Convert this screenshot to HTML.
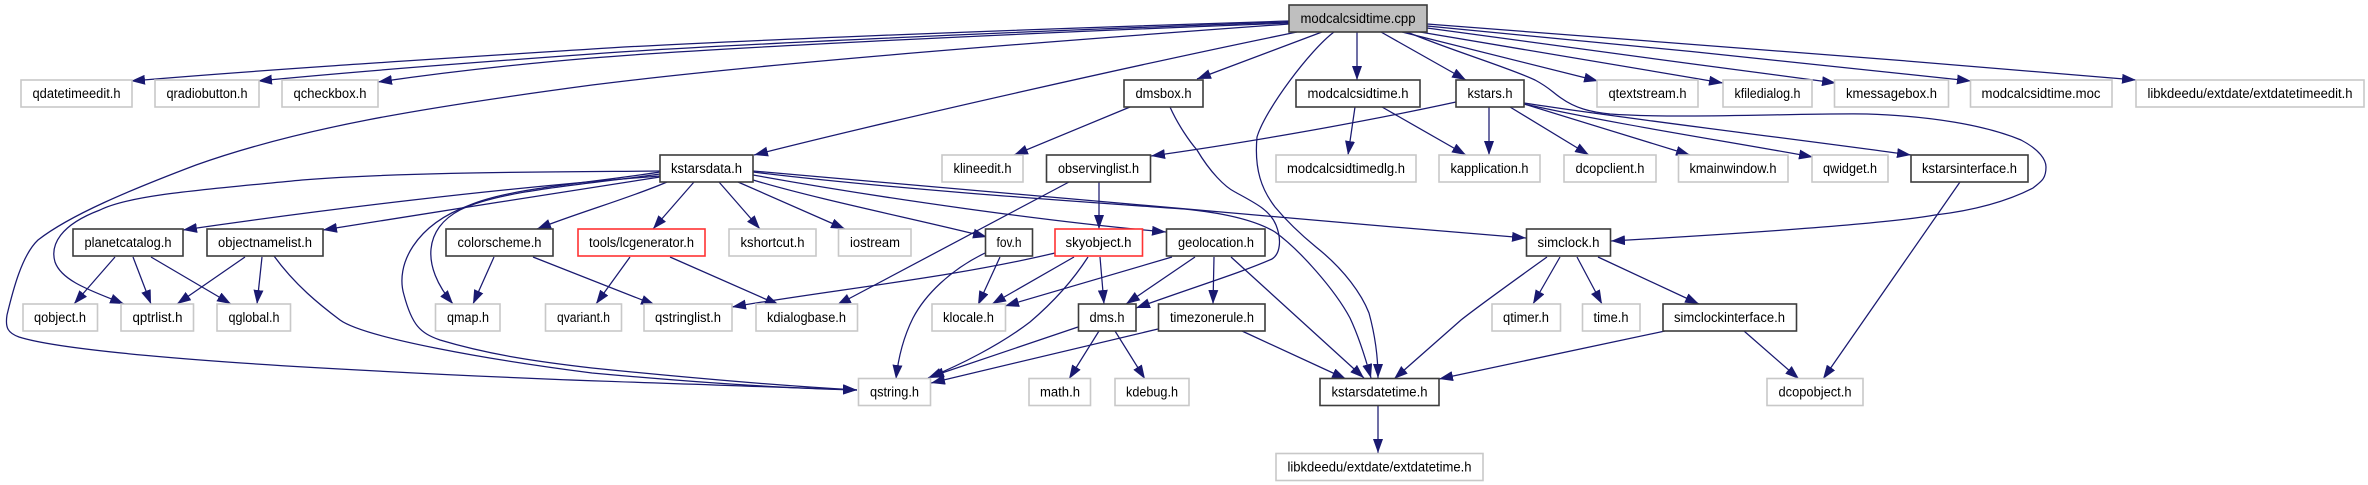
<!DOCTYPE html>
<html><head><meta charset="utf-8"><title>modcalcsidtime.cpp include graph</title>
<style>
html,body{margin:0;padding:0;background:#fff;width:2368px;height:485px;overflow:hidden}
svg{display:block}
.e path{fill:none;stroke:#191970;stroke-width:1.25;marker-end:url(#a)}
rect{stroke-width:1.6;fill:#fff}
.k{stroke:#3c3c3c}.g{stroke:#c8c8c8}.r{stroke:#ff3333}
text{font-family:"Liberation Sans",sans-serif;font-size:13.5px;fill:#000;text-anchor:middle}
</style></head><body>
<svg xmlns="http://www.w3.org/2000/svg" width="2368" height="485" viewBox="0 0 2368 485">
<defs><marker id="a" markerUnits="userSpaceOnUse" markerWidth="14" markerHeight="10" refX="14" refY="5" orient="auto"><path d="M0,0L14,5L0,10z" fill="#191970"/></marker></defs>
<g class="e">
<path d="M1289,21C1000,30 700,42 592,49C420,60 260,70 131,81"/>
<path d="M1289,22C1000,32 700,46 592,54C480,62 360,71 258,81"/>
<path d="M1289,23C1000,34 700,49 592,58C520,64 440,73 378,82"/>
<path d="M1289,24C1000,45 750,65 592,85C420,108 300,128 196,165C130,190 70,215 38,240C22,255 13,290 7,315C5,328 8,333 19,337C60,350 200,362 377,371C560,381 700,384 857,390"/>
<path d="M1297,32C1150,62 900,118 754,155"/>
<path d="M1322,32L1197,79"/>
<path d="M1357,32L1357,80"/>
<path d="M1381,32L1466,80"/>
<path d="M1402,32L1598,81"/>
<path d="M1414,31L1723,83"/>
<path d="M1427,28C1550,45 1700,65 1836,83"/>
<path d="M1427,26C1600,42 1800,62 1971,81"/>
<path d="M1427,24C1650,40 1900,60 2136,80"/>
<path d="M1407,32C1450,50 1510,68 1535,80C1550,88 1552,92 1561,98C1575,108 1590,112 1610,114C1680,119 1800,113 1867,114C1930,116 1985,125 2021,140C2040,150 2046,160 2046,167C2046,180 2040,182 2033,188C2000,205 1960,212 1935,215C1880,225 1700,236 1611,241"/>
<path d="M1334,32C1310,50 1265,110 1257,137C1254,170 1262,190 1275,207C1290,225 1305,238 1316,247C1345,270 1362,295 1369,313C1375,335 1378,355 1378,378"/>
<path d="M1456,102C1350,125 1230,145 1151,156"/>
<path d="M1355,107L1348,155"/>
<path d="M1382,107L1466,155"/>
<path d="M1489,107L1489,155"/>
<path d="M1510,107L1589,155"/>
<path d="M1524,104L1690,155"/>
<path d="M1524,104C1620,125 1720,140 1813,157"/>
<path d="M1524,103C1620,118 1780,137 1911,155"/>
<path d="M1130,107L1014,155"/>
<path d="M1170,107C1178,125 1190,142 1197,150C1210,172 1225,187 1235,192C1255,203 1270,210 1276,225C1282,240 1280,254 1272,259C1240,273 1200,285 1136,308"/>
<path d="M660,171C550,172 400,172 302,180C200,190 130,195 100,210C60,225 50,245 55,262C62,282 95,292 124,304"/>
<path d="M660,176C500,188 320,210 183,230"/>
<path d="M660,177C560,192 420,215 323,230"/>
<path d="M660,174C590,184 500,190 460,210C425,228 420,265 453,304"/>
<path d="M660,172C590,183 510,188 470,205C415,225 395,265 404,295C412,325 420,333 440,340C490,355 540,362 592,368C680,377 770,385 857,390"/>
<path d="M274,256C295,285 320,305 340,320C365,338 490,360 592,373C680,381 770,388 857,390"/>
<path d="M667,182C630,198 580,212 537,229"/>
<path d="M694,182L653,229"/>
<path d="M719,182L760,229"/>
<path d="M738,182L845,229"/>
<path d="M753,180C820,200 920,220 987,237"/>
<path d="M753,175C880,198 1050,222 1166,232"/>
<path d="M753,171C950,190 1250,215 1526,238"/>
<path d="M753,172C900,190 1100,203 1184,209C1225,213 1255,220 1275,232C1300,250 1335,290 1350,318C1358,335 1366,360 1371,378"/>
<path d="M115,257L74,304"/>
<path d="M133,257L151,304"/>
<path d="M151,257L231,304"/>
<path d="M245,257L177,304"/>
<path d="M262,257L257,304"/>
<path d="M494,257L473,304"/>
<path d="M533,257L655,305"/>
<path d="M630,257L596,304"/>
<path d="M670,257L779,305"/>
<path d="M1069,182L837,305"/>
<path d="M1099,182L1099,229"/>
<path d="M1000,257L978,305"/>
<path d="M985,253C950,270 925,295 913,318C903,338 898,360 896,379"/>
<path d="M1055,253C950,278 830,290 732,307"/>
<path d="M1074,257L992,304"/>
<path d="M1088,257C1070,285 1050,305 1030,322C1000,345 960,365 928,378"/>
<path d="M1100,257L1104,304"/>
<path d="M1172,257L1005,306"/>
<path d="M1195,257L1126,304"/>
<path d="M1214,257L1213,304"/>
<path d="M1231,257L1364,378"/>
<path d="M1078,327L930,377"/>
<path d="M1099,331L1069,379"/>
<path d="M1115,331L1145,379"/>
<path d="M1158,329L931,383"/>
<path d="M1242,331L1346,379"/>
<path d="M1547,257C1515,280 1480,305 1461,320L1394,379"/>
<path d="M1560,257L1533,304"/>
<path d="M1577,257L1602,304"/>
<path d="M1598,257L1699,304"/>
<path d="M1665,331L1439,379"/>
<path d="M1744,331L1799,379"/>
<path d="M1960,182L1823,379"/>
<path d="M1378,406L1378,453"/>
</g>
<rect x="1289" y="5" width="138" height="27" style="fill:#bfbfbf" class="k"/><text x="1358" y="23" textLength="115" lengthAdjust="spacingAndGlyphs">modcalcsidtime.cpp</text>

<rect x="21" y="80" width="111" height="27" class="g"/><text x="76.5" y="98" textLength="88" lengthAdjust="spacingAndGlyphs">qdatetimeedit.h</text>
<rect x="155" y="80" width="104" height="27" class="g"/><text x="207" y="98" textLength="81" lengthAdjust="spacingAndGlyphs">qradiobutton.h</text>
<rect x="282" y="80" width="96" height="27" class="g"/><text x="330" y="98" textLength="73" lengthAdjust="spacingAndGlyphs">qcheckbox.h</text>
<rect x="1124" y="80" width="79" height="27" class="k"/><text x="1163.5" y="98" textLength="56" lengthAdjust="spacingAndGlyphs">dmsbox.h</text>
<rect x="1296" y="80" width="124" height="27" class="k"/><text x="1358" y="98" textLength="101" lengthAdjust="spacingAndGlyphs">modcalcsidtime.h</text>
<rect x="1456" y="80" width="68" height="27" class="k"/><text x="1490" y="98" textLength="45" lengthAdjust="spacingAndGlyphs">kstars.h</text>
<rect x="1597" y="80" width="101" height="27" class="g"/><text x="1647.5" y="98" textLength="78" lengthAdjust="spacingAndGlyphs">qtextstream.h</text>
<rect x="1723" y="80" width="89" height="27" class="g"/><text x="1767.5" y="98" textLength="66" lengthAdjust="spacingAndGlyphs">kfiledialog.h</text>
<rect x="1834.500" y="80" width="114" height="27" class="g"/><text x="1891.500" y="98" textLength="91" lengthAdjust="spacingAndGlyphs">kmessagebox.h</text>
<rect x="1970.500" y="80" width="141.500" height="27" class="g"/><text x="2041" y="98" textLength="119" lengthAdjust="spacingAndGlyphs">modcalcsidtime.moc</text>
<rect x="2136" y="80" width="228" height="27" class="g"/><text x="2250" y="98" textLength="205" lengthAdjust="spacingAndGlyphs">libkdeedu/extdate/extdatetimeedit.h</text>

<rect x="660" y="155" width="93" height="27" class="k"/><text x="706.5" y="173" textLength="71" lengthAdjust="spacingAndGlyphs">kstarsdata.h</text>
<rect x="942" y="155" width="81" height="27" class="g"/><text x="982.5" y="173" textLength="58" lengthAdjust="spacingAndGlyphs">klineedit.h</text>
<rect x="1046.500" y="155" width="104" height="27" class="k"/><text x="1098.500" y="173" textLength="81" lengthAdjust="spacingAndGlyphs">observinglist.h</text>
<rect x="1276" y="155" width="140" height="27" class="g"/><text x="1346" y="173" textLength="118" lengthAdjust="spacingAndGlyphs">modcalcsidtimedlg.h</text>
<rect x="1439" y="155" width="101" height="27" class="g"/><text x="1489.500" y="173" textLength="78" lengthAdjust="spacingAndGlyphs">kapplication.h</text>
<rect x="1564" y="155" width="92" height="27" class="g"/><text x="1610" y="173" textLength="69" lengthAdjust="spacingAndGlyphs">dcopclient.h</text>
<rect x="1678.500" y="155" width="109.500" height="27" class="g"/><text x="1733" y="173" textLength="87" lengthAdjust="spacingAndGlyphs">kmainwindow.h</text>
<rect x="1812" y="155" width="76" height="27" class="g"/><text x="1850" y="173" textLength="54" lengthAdjust="spacingAndGlyphs">qwidget.h</text>
<rect x="1911" y="155" width="117" height="27" class="k"/><text x="1969.500" y="173" textLength="95" lengthAdjust="spacingAndGlyphs">kstarsinterface.h</text>

<rect x="73" y="229" width="110" height="27" class="k"/><text x="128" y="247" textLength="87" lengthAdjust="spacingAndGlyphs">planetcatalog.h</text>
<rect x="207" y="229" width="116" height="27" class="k"/><text x="265" y="247" textLength="94" lengthAdjust="spacingAndGlyphs">objectnamelist.h</text>
<rect x="446" y="229" width="107" height="27" class="k"/><text x="499.500" y="247" textLength="84" lengthAdjust="spacingAndGlyphs">colorscheme.h</text>
<rect x="578" y="229" width="127" height="27" class="r"/><text x="641.500" y="247" textLength="105" lengthAdjust="spacingAndGlyphs">tools/lcgenerator.h</text>
<rect x="729" y="229" width="87" height="27" class="g"/><text x="772.500" y="247" textLength="64" lengthAdjust="spacingAndGlyphs">kshortcut.h</text>
<rect x="838.500" y="229" width="72.500" height="27" class="g"/><text x="875" y="247" textLength="50" lengthAdjust="spacingAndGlyphs">iostream</text>
<rect x="985.500" y="229" width="47" height="27" class="k"/><text x="1009" y="247" textLength="25" lengthAdjust="spacingAndGlyphs">fov.h</text>
<rect x="1055" y="229" width="87.500" height="27" class="r"/><text x="1098.500" y="247" textLength="66" lengthAdjust="spacingAndGlyphs">skyobject.h</text>
<rect x="1166.500" y="229" width="98.500" height="27" class="k"/><text x="1216" y="247" textLength="76" lengthAdjust="spacingAndGlyphs">geolocation.h</text>
<rect x="1526.500" y="229" width="84" height="27" class="k"/><text x="1568.500" y="247" textLength="62" lengthAdjust="spacingAndGlyphs">simclock.h</text>

<rect x="23" y="304" width="74.500" height="27" class="g"/><text x="60" y="322" textLength="52" lengthAdjust="spacingAndGlyphs">qobject.h</text>
<rect x="121" y="304" width="72.500" height="27" class="g"/><text x="157.500" y="322" textLength="50" lengthAdjust="spacingAndGlyphs">qptrlist.h</text>
<rect x="217" y="304" width="73.500" height="27" class="g"/><text x="254" y="322" textLength="51" lengthAdjust="spacingAndGlyphs">qglobal.h</text>
<rect x="435.500" y="304" width="64.500" height="27" class="g"/><text x="468" y="322" textLength="42" lengthAdjust="spacingAndGlyphs">qmap.h</text>
<rect x="545.500" y="304" width="76" height="27" class="g"/><text x="583.500" y="322" textLength="53" lengthAdjust="spacingAndGlyphs">qvariant.h</text>
<rect x="644" y="304" width="88" height="27" class="g"/><text x="688" y="322" textLength="66" lengthAdjust="spacingAndGlyphs">qstringlist.h</text>
<rect x="756" y="304" width="101.500" height="27" class="g"/><text x="806.500" y="322" textLength="79" lengthAdjust="spacingAndGlyphs">kdialogbase.h</text>
<rect x="932" y="304" width="73.500" height="27" class="g"/><text x="968.500" y="322" textLength="51" lengthAdjust="spacingAndGlyphs">klocale.h</text>
<rect x="1078.500" y="304" width="57.500" height="27" class="k"/><text x="1107" y="322" textLength="35" lengthAdjust="spacingAndGlyphs">dms.h</text>
<rect x="1158.500" y="304" width="106.500" height="27" class="k"/><text x="1212" y="322" textLength="84" lengthAdjust="spacingAndGlyphs">timezonerule.h</text>
<rect x="1492" y="304" width="68.500" height="27" class="g"/><text x="1526" y="322" textLength="46" lengthAdjust="spacingAndGlyphs">qtimer.h</text>
<rect x="1582.500" y="304" width="57.500" height="27" class="g"/><text x="1611" y="322" textLength="35" lengthAdjust="spacingAndGlyphs">time.h</text>
<rect x="1663" y="304" width="133.500" height="27" class="k"/><text x="1729.500" y="322" textLength="111" lengthAdjust="spacingAndGlyphs">simclockinterface.h</text>

<rect x="858.500" y="378.500" width="72" height="27" class="g"/><text x="894.500" y="396.500" textLength="49" lengthAdjust="spacingAndGlyphs">qstring.h</text>
<rect x="1029" y="378.500" width="61.500" height="27" class="g"/><text x="1060" y="396.500" textLength="40" lengthAdjust="spacingAndGlyphs">math.h</text>
<rect x="1115" y="378.500" width="74" height="27" class="g"/><text x="1152" y="396.500" textLength="52" lengthAdjust="spacingAndGlyphs">kdebug.h</text>
<rect x="1320" y="378.500" width="119" height="27" class="k"/><text x="1379.500" y="396.500" textLength="96" lengthAdjust="spacingAndGlyphs">kstarsdatetime.h</text>
<rect x="1767" y="378.500" width="96" height="27" class="g"/><text x="1815" y="396.500" textLength="73" lengthAdjust="spacingAndGlyphs">dcopobject.h</text>

<rect x="1276" y="453.500" width="207" height="27" class="g"/><text x="1379.500" y="471.500" textLength="184" lengthAdjust="spacingAndGlyphs">libkdeedu/extdate/extdatetime.h</text>
</svg>
</body></html>
